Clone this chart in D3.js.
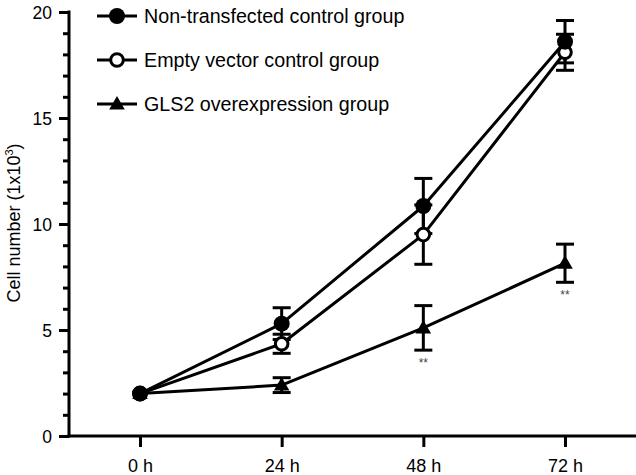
<!DOCTYPE html>
<html><head><meta charset="utf-8">
<script src="https://cdn.jsdelivr.net/npm/d3@7"></script>
<style>body{margin:0;background:#fff}svg{display:block}text{font-family:"Liberation Sans",Arial,Helvetica,sans-serif}</style>
</head><body><svg id="c" width="636" height="475"></svg>
<script>
const categories = ["0 h","24 h","48 h","72 h"];
const seriesNames = ["Non-transfected control group","Empty vector control group","GLS2 overexpression group"];
const nonTransfected = [2.0, 5.3, 10.85, 18.6];
const nonTransfectedErr = [0, 0.75, 1.3, 1.0];
const emptyVector = [2.0, 4.35, 9.5, 18.1];
const emptyVectorErr = [0, 0.45, 1.4, 0.85];
const gls2 = [2.0, 2.4, 5.1, 8.15];
const gls2Err = [0, 0.35, 1.05, 0.9];
const significance = ["", "", "**", "**"];
const yTicks = [0,5,10,15,20];
const yMinorTicks = d3.range(0,21,1);

const svg = d3.select("#c");
const x = d3.scalePoint().domain(categories).range([140,565]);
const y = d3.scaleLinear().domain([0,20]).range([436,12]);

const series = [
  {name: seriesNames[0], vals: nonTransfected, err: nonTransfectedErr, marker: "filled"},
  {name: seriesNames[1], vals: emptyVector, err: emptyVectorErr, marker: "open"},
  {name: seriesNames[2], vals: gls2, err: gls2Err, marker: "tri"}
];

// axes
const yAxisMinor = d3.axisLeft(y).tickValues(yMinorTicks).tickSize(6).tickFormat("");
const gMinor = svg.append("g").attr("transform","translate(69,0)").call(yAxisMinor);
const yAxis = d3.axisLeft(y).tickValues(yTicks).tickSize(10).tickPadding(7).tickFormat(d3.format("d"));
const gy = svg.append("g").attr("transform","translate(69,0)").call(yAxis);
[gMinor, gy].forEach(g=>{
  g.selectAll(".domain").remove();
  g.selectAll(".tick line").attr("stroke","#000").attr("stroke-width",3);
});
gy.selectAll(".tick text").attr("font-size",17.5).attr("fill","#000").attr("dy","0.35em");
svg.append("line").attr("x1",69).attr("x2",69).attr("y1",y(20)-1.5).attr("y2",y(0)+1.5).attr("stroke","#000").attr("stroke-width",3);

const xAxis = d3.axisBottom(x).tickSize(11);
const gx = svg.append("g").attr("transform","translate(0,436)").call(xAxis);
gx.selectAll(".domain").remove();
gx.selectAll(".tick line").attr("stroke","#000").attr("stroke-width",3);
gx.selectAll(".tick text").attr("font-size",18).attr("fill","#000").attr("y",36).attr("dy",0);
svg.append("line").attr("x1",67.5).attr("x2",636).attr("y1",436).attr("y2",436).attr("stroke","#000").attr("stroke-width",3);

// y title
const yt = svg.append("text").attr("transform","translate(20,223) rotate(-90)").attr("text-anchor","middle").attr("font-size",18).attr("fill","#000");
yt.append("tspan").text("Cell number (1x10");
yt.append("tspan").attr("font-size",11).attr("dy",-7).text("3");
yt.append("tspan").attr("dy",7).text(")");

// lines
const line = d3.line().x((d,i)=>x(categories[i])).y(d=>y(d));
series.forEach(s=>{
  svg.append("path").datum(s.vals).attr("d",line).attr("fill","none").attr("stroke","#000").attr("stroke-width",3).attr("stroke-linejoin","round");
});

// error bars
series.forEach(s=>{
  s.vals.forEach((v,i)=>{
    if(!s.err[i]) return;
    const cx = x(categories[i]);
    const g = svg.append("g").attr("stroke","#000").attr("stroke-width",3);
    g.append("line").attr("x1",cx).attr("x2",cx).attr("y1",y(v+s.err[i])).attr("y2",y(v-s.err[i]));
    [v+s.err[i], v-s.err[i]].forEach(e=>{
      g.append("line").attr("x1",cx-9).attr("x2",cx+9).attr("y1",y(e)).attr("y2",y(e));
    });
  });
});

function drawMarker(g, type, cx, cy){
  if(type==="filled") g.append("circle").attr("cx",cx).attr("cy",cy).attr("r",8).attr("fill","#000");
  else if(type==="open") g.append("circle").attr("cx",cx).attr("cy",cy).attr("r",6.3).attr("fill","#fff").attr("stroke","#000").attr("stroke-width",3);
  else g.append("path").attr("d",d3.symbol(d3.symbolTriangle, 105)()).attr("transform",`translate(${cx},${cy+1})`).attr("fill","#000");
}
[2,1,0].forEach(k=>{
  const s = series[k];
  s.vals.forEach((v,i)=>drawMarker(svg, s.marker, x(categories[i]), y(v)));
});

// significance
significance.forEach((t,i)=>{
  if(!t) return;
  svg.append("text").attr("x",x(categories[i])).attr("y",y(gls2[i]-gls2Err[i])+17).attr("text-anchor","middle").attr("font-size",12).attr("fill","#444").text(t);
});

// legend
const legY = [16, 60, 104];
series.forEach((s,k)=>{
  const g = svg.append("g");
  g.append("line").attr("x1",97).attr("x2",137).attr("y1",legY[k]).attr("y2",legY[k]).attr("stroke","#000").attr("stroke-width",3);
  drawMarker(g, s.marker, 117, legY[k]);
  g.append("text").attr("x",144).attr("y",legY[k]+6.7).attr("font-size",19.7).attr("fill","#000").text(s.name);
});
</script></body></html>
